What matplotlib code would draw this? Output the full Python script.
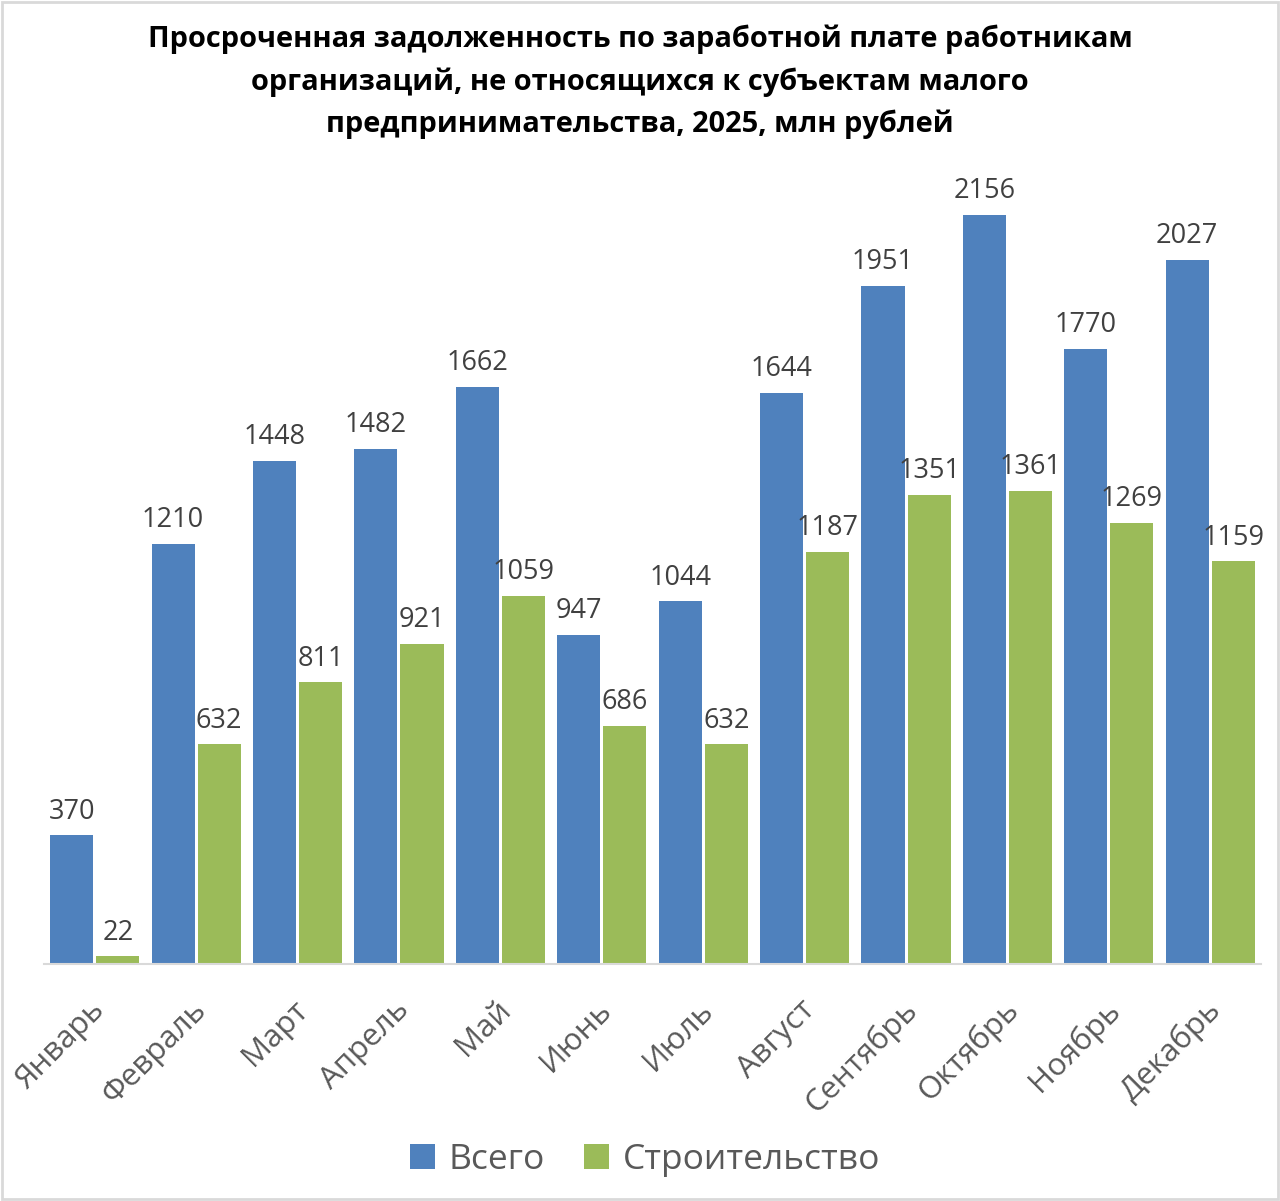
import matplotlib
matplotlib.use("Agg")
import matplotlib.pyplot as plt
import numpy as np
from matplotlib.patches import Rectangle

months = ["Январь", "Февраль", "Март", "Апрель", "Май", "Июнь", "Июль",
          "Август", "Сентябрь", "Октябрь", "Ноябрь", "Декабрь"]
total = [370, 1210, 1448, 1482, 1662, 947, 1044, 1644, 1951, 2156, 1770, 2027]
construction = [22, 632, 811, 921, 1059, 686, 632, 1187, 1351, 1361, 1269, 1159]
series_names = ["Всего", "Строительство"]
title = ("Просроченная задолженность по заработной плате работникам\n"
         "организаций, не относящихся к субъектам малого\n"
         "предпринимательства, 2025, млн рублей")

plt.rcParams['font.family'] = ['Open Sans', 'DejaVu Sans']
BLUE = "#4F81BD"
GREEN = "#9BBB59"
TXT = "#404040"

fig = plt.figure(figsize=(12.8, 12.01), dpi=100)
ax = fig.add_axes([44 / 1280, 237 / 1201, 1217 / 1280, (964 - 175) / 1201])

x = np.arange(len(months))
w = 0.425
gap = 0.015
b1 = ax.bar(x - w / 2 - gap, total, width=w, color=BLUE, zorder=2)
b2 = ax.bar(x + w / 2 + gap, construction, width=w, color=GREEN, zorder=2)

for bars, vals in ((b1, total), (b2, construction)):
    for rect, v in zip(bars, vals):
        ax.annotate(str(v), (rect.get_x() + rect.get_width() / 2, v),
                    xytext=(0, 7), textcoords="offset points",
                    ha="center", va="bottom", fontsize=19.5, color=TXT)

ax.set_xlim(-0.5, len(months) - 0.5)
ax.set_ylim(0, 2271)
ax.set_yticks([])
for s in ("left", "right", "top"):
    ax.spines[s].set_visible(False)
ax.spines["bottom"].set_color("#D9D9D9")
ax.spines["bottom"].set_linewidth(1.5)
ax.set_xticks(x - 0.05)
ax.set_xticklabels(months, rotation=45, ha="right", rotation_mode="anchor",
                   fontsize=22.5, color="#595959")
ax.tick_params(axis="x", length=0, pad=22)

fig.text(0.5, 1 - 25 / 1201, title, ha="center", va="top", fontsize=20.9,
         fontweight="bold", color="black", linespacing=1.56)

leg = fig.legend([b1, b2], series_names, loc="center", bbox_to_anchor=(0.504, 1 - 1160 / 1201),
                 ncol=2, frameon=False, fontsize=25.5, handlelength=0.7, handleheight=0.7,
                 handletextpad=0.4, columnspacing=1.1)
for t in leg.get_texts():
    t.set_color("#595959")

fig.patches.append(Rectangle((2 / 1280, 2 / 1201), 1 - 4 / 1280, 1 - 4 / 1201,
                             transform=fig.transFigure, fill=False,
                             edgecolor="#D9D9D9", linewidth=2))

fig.savefig("out.png", dpi=100)
